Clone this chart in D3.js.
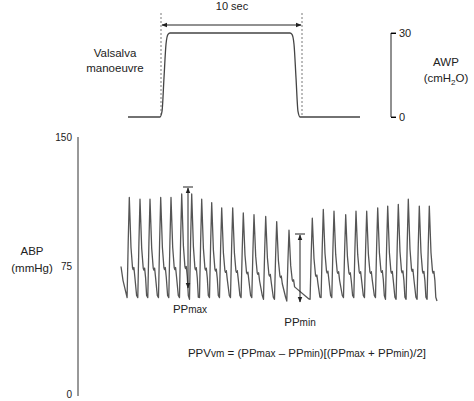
<!DOCTYPE html><html><head><meta charset="utf-8">
<script src="https://cdn.jsdelivr.net/npm/d3@7"></script>
<style>body{margin:0;background:#fff}text{font-family:"Liberation Sans",Arial,sans-serif;fill:#222}</style></head><body>
<svg id="c" width="474" height="401"></svg>
<script>
// AWP trace (time in px-units, value cmH2O)
const awpT = [128,160,162,164,166,168,170,290,292,294,296,298,300,360];
const awpV = [0,0,2,14,26,29.5,30,30,29.5,26,14,2,0,0];
// ABP beats: peak time, systolic, diastolic (mmHg)
const beatT = [129.3,140,150,160.7,171,181.7,191.7,201.7,211.7,221.7,232.7,243.3,254,265.7,276.7,289,312.3,323.3,334,345.7,356,366.7,377.7,387.7,398.3,408.3,419.3,429.3];
const beatS = [115,114,114,115,115,117,117,114,112,109,109,106,105,104,101,96,103,108,107,105,107,107,109,110,111,114,110,110];
const beatD = [57,57,57,57,57,57,56,57,57,57,57,57,57,56,56,55,56,57,57,57,57,57,57,56,56,56,56,56];
const abpTicks = [0,75,150];
const awpTicks = [0,30];

const svg = d3.select("#c");
const xs = d3.scaleLinear().domain([0,474]).range([0,474]);
const yA = d3.scaleLinear().domain([0,30]).range([117,33]);
const yP = d3.scaleLinear().domain([0,150]).range([396,137]);

// AWP
svg.append("path").datum(awpT.map((t,i)=>[t,awpV[i]]))
 .attr("d",d3.line().x(d=>xs(d[0])).y(d=>yA(d[1])).curve(d3.curveMonotoneX))
 .attr("fill","none").attr("stroke","#444").attr("stroke-width",1.3);
[161,302].forEach(x=>svg.append("line").attr("x1",xs(x)).attr("x2",xs(x)).attr("y1",13).attr("y2",yA(0))
 .attr("stroke","#555").attr("stroke-dasharray","2,2").attr("stroke-width",0.8));
svg.append("defs").html('<marker id="ah" viewBox="0 0 10 10" refX="9" refY="5" markerWidth="6" markerHeight="6" orient="auto-start-reverse"><path d="M0,1L10,5L0,9z" fill="#222"/></marker>');
svg.append("line").attr("x1",xs(162)).attr("x2",xs(301)).attr("y1",25).attr("y2",25)
 .attr("stroke","#222").attr("stroke-width",1).attr("marker-start","url(#ah)").attr("marker-end","url(#ah)");
svg.append("text").attr("x",232).attr("y",10).attr("text-anchor","middle").attr("font-size",11).text("10 sec");
const ga = svg.append("g").attr("transform","translate(391,0)").call(d3.axisRight(yA).tickValues(awpTicks).tickSize(5).tickPadding(3));
ga.select(".domain").attr("d",`M5,${yA(30)}H0V${yA(0)}H5`).attr("stroke","#222");
ga.selectAll("text").attr("font-size",11).attr("fill","#222");
svg.append("text").attr("x",446).attr("y",66).attr("text-anchor","middle").attr("font-size",11.5).text("AWP");
svg.append("text").attr("x",446).attr("y",82).attr("text-anchor","middle").attr("font-size",11.5).html('(cmH<tspan font-size="8" dy="3">2</tspan><tspan dy="-3">O)</tspan>');
svg.append("text").attr("x",115).attr("y",57).attr("text-anchor","middle").attr("font-size",11.5).text("Valsalva");
svg.append("text").attr("x",115).attr("y",72).attr("text-anchor","middle").attr("font-size",11.5).text("manoeuvre");

// ABP axis
const gp = svg.append("g").attr("transform","translate(78,0)").call(d3.axisLeft(yP).tickValues(abpTicks).tickSize(0).tickPadding(6));
gp.select(".domain").attr("d",`M0,${yP(150)}V${yP(0)}`).attr("stroke","#333");
gp.selectAll("text").attr("font-size",10).attr("fill","#222");
gp.selectAll(".tick").filter(d=>d===0).select("text").attr("dy","0.1em");
svg.append("text").attr("x",32).attr("y",255).attr("text-anchor","middle").attr("font-size",11.5).text("ABP");
svg.append("text").attr("x",32).attr("y",272).attr("text-anchor","middle").attr("font-size",11.5).text("(mmHg)");

// ABP waveform built from beats
const pts = [[121,beatD[0]+18],[123,beatD[0]+10]];
beatT.forEach((t,i)=>{
  const s=beatS[i], d=beatD[i], a=s-d;
  pts.push([t-2.2,d],[t-1.1,d+a*0.55],[t,s],[t+1.7,d+a*0.5],[t+3.2,d+a*0.3],[t+3.8,d+a*0.28],[t+4.6,d+a*0.3],[t+5.6,d+a*0.2]);
  const nx = i<beatT.length-1 ? beatT[i+1]-2.2 : 437;
  pts.push([nx-1.2,d+1.2]);
});
pts.push([437,beatD[beatD.length-1]-1]);
svg.append("path").datum(pts)
 .attr("d",d3.line().x(d=>xs(d[0])).y(d=>yP(d[1])))
 .attr("fill","none").attr("stroke","#555").attr("stroke-width",1.3).attr("stroke-linejoin","round");

// PP arrows
function pp(x,y1,y2){
  svg.append("line").attr("x1",x-5).attr("x2",x+5).attr("y1",y1).attr("y2",y1).attr("stroke","#222");
  svg.append("line").attr("x1",x).attr("x2",x).attr("y1",y1+1).attr("y2",y2).attr("stroke","#222")
   .attr("marker-start","url(#ah)").attr("marker-end","url(#ah)");
}
pp(188,187,288); pp(300,234,302);
svg.append("text").attr("x",190).attr("y",313).attr("text-anchor","middle").attr("font-size",11.5).html('PP<tspan font-size="10">max</tspan>');
svg.append("text").attr("x",300).attr("y",326).attr("text-anchor","middle").attr("font-size",11.5).html('PP<tspan font-size="10">min</tspan>');
svg.append("text").attr("x",307).attr("y",357).attr("text-anchor","middle").attr("font-size",11.5)
 .html('PPV<tspan font-size="10">vm</tspan> = (PP<tspan font-size="10">max</tspan> – PP<tspan font-size="10">min</tspan>)[(PP<tspan font-size="10">max</tspan> + PP<tspan font-size="10">min</tspan>)/2]');
</script></body></html>
